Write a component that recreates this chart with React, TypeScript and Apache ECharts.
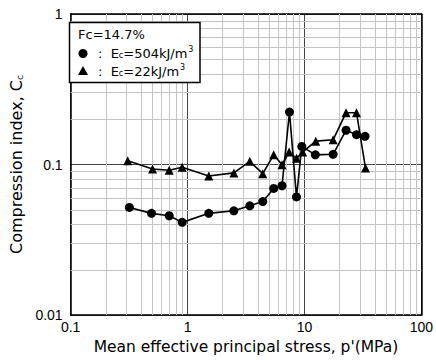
import React, { useEffect, useRef } from "react";
import * as echarts from "echarts";

const circleX = [0.318, 0.492, 0.697, 0.9, 1.52, 2.49, 3.41, 4.4, 5.46, 6.43, 7.45, 8.55, 9.5, 12.4, 17.6, 22.7, 27.9, 33.0];
const circleY = [0.0519, 0.0474, 0.0457, 0.0413, 0.0474, 0.0493, 0.0532, 0.0568, 0.0694, 0.0723, 0.223, 0.0609, 0.132, 0.116, 0.117, 0.169, 0.158, 0.154];
const triX = [0.308, 0.502, 0.697, 0.899, 1.52, 2.49, 3.41, 4.4, 5.46, 6.43, 7.4, 8.55, 9.65, 12.5, 17.6, 22.7, 27.9, 33.3];
const triY = [0.106, 0.0934, 0.0916, 0.0959, 0.084, 0.088, 0.105, 0.087, 0.116, 0.0997, 0.121, 0.11, 0.121, 0.143, 0.146, 0.221, 0.221, 0.0948];
const xMinorLines = [0.2, 0.3, 0.4, 0.5, 0.6, 0.7, 0.8, 0.9, 2, 3, 4, 5, 6, 7, 8, 9, 20, 30, 40, 50, 60, 70, 80, 90];
const yMinorLines = [0.02, 0.03, 0.04, 0.05, 0.06, 0.07, 0.08, 0.09, 0.2, 0.3, 0.4, 0.5, 0.6, 0.7, 0.8, 0.9];
const xTickLabels = ["0.1", "1", "10", "100"];
const yTickLabels = ["0.01", "0.1", "1"];

const FONT = "Liberation Sans";
const WIDE = "DejaVu Sans";

function fmt(v: number, labels: string[]) {
  const s = labels.find((l) => Math.abs(parseFloat(l) - v) / v < 1e-6);
  return s ?? "";
}

export default function App() {
  const ref = useRef<HTMLDivElement>(null);
  useEffect(() => {
    if (!ref.current) return;
    const chart = echarts.init(ref.current, null, { renderer: "svg" });
    const baseLog = {
      type: "log" as const,
      logBase: 10,
    };
    const legendRich = {
      a: { fontFamily: WIDE, fontSize: 13, fill: "#000" },
      s: { fontFamily: WIDE, fontSize: 8, fill: "#000", padding: [4, 0, 0, 0] },
      p: { fontFamily: WIDE, fontSize: 8, fill: "#000", padding: [0, 0, 8, 1] },
    };
    chart.setOption({
      animation: false,
      backgroundColor: "#fff",
      grid: { left: 60, top: 14, width: 364, height: 305, show: false },
      xAxis: [
        {
          ...baseLog,
          min: 0.1,
          max: 100,
          name: "Mean effective principal stress, p'(MPa)",
          nameLocation: "middle",
          nameGap: 22,
          nameTextStyle: { fontFamily: WIDE, fontSize: 15.5, color: "#000", verticalAlign: "top" },
          axisLine: { show: true, lineStyle: { color: "#000", width: 1.5 } },
          axisTick: { show: false },
          axisLabel: {
            fontFamily: FONT,
            fontSize: 14,
            color: "#000",
            margin: 5,
            showMinLabel: true,
            showMaxLabel: true,
            formatter: (v: number) => fmt(v, xTickLabels),
          },
          splitLine: { show: true, lineStyle: { color: "#444", width: 1 } },
        },
        {
          ...baseLog,
          min: 0.1,
          max: 100,
          position: "top",
          axisLine: { show: true, lineStyle: { color: "#000", width: 1.5 } },
          axisTick: { show: false },
          axisLabel: { show: false },
          splitLine: { show: false },
        },
      ],
      yAxis: [
        {
          ...baseLog,
          min: 0.01,
          max: 1,
          name: "{a|Compression index, C}{s|c}",
          nameLocation: "middle",
          nameGap: 38,
          nameRotate: 90,
          nameTextStyle: {
            fontFamily: WIDE,
            color: "#000",
            rich: {
              a: { fontFamily: WIDE, fontSize: 16, color: "#000" },
              s: { fontFamily: WIDE, fontSize: 9, color: "#000", verticalAlign: "bottom", padding: [8, 0, 0, 0] },
            },
          },
          axisLine: { show: true, lineStyle: { color: "#000", width: 1.5 } },
          axisTick: { show: false },
          axisLabel: {
            fontFamily: FONT,
            fontSize: 14,
            color: "#000",
            margin: 8,
            showMinLabel: true,
            showMaxLabel: true,
            formatter: (v: number) => fmt(v, yTickLabels),
          },
          splitLine: { show: true, lineStyle: { color: "#444", width: 1 } },
        },
        {
          ...baseLog,
          min: 0.01,
          max: 1,
          position: "right",
          axisLine: { show: true, lineStyle: { color: "#000", width: 1.5 } },
          axisTick: { show: false },
          axisLabel: { show: false },
          splitLine: { show: false },
        },
      ],
      series: [
        {
          type: "line",
          name: "grid-minor",
          data: [],
          silent: true,
          z: 1,
          markLine: {
            silent: true,
            symbol: "none",
            label: { show: false },
            emphasis: { disabled: true },
            lineStyle: { color: "#c4c4c4", width: 1, type: "solid" },
            data: [
              ...xMinorLines.map((v) => ({ xAxis: v })),
              ...yMinorLines.map((v) => ({ yAxis: v })),
            ],
          },
        },
        {
          type: "line",
          name: "Ec=504kJ/m3",
          data: circleX.map((x, i) => [x, circleY[i]]),
          symbol: "circle",
          symbolSize: 9,
          showAllSymbol: true,
          itemStyle: { color: "#000" },
          lineStyle: { color: "#000", width: 1.6 },
          z: 5,
        },
        {
          type: "line",
          name: "Ec=22kJ/m3",
          data: triX.map((x, i) => [x, triY[i]]),
          symbol: "triangle",
          symbolSize: 9,
          showAllSymbol: true,
          itemStyle: { color: "#000" },
          lineStyle: { color: "#000", width: 1.6 },
          z: 5,
        },
      ],
      graphic: [
        {
          type: "rect",
          shape: { x: 69.5, y: 22.5, width: 130.5, height: 60 },
          style: { fill: "#fff", stroke: "#000", lineWidth: 1.5 },
          z: 10,
        },
        {
          type: "text",
          x: 78,
          y: 34.5,
          z: 11,
          style: {
            text: "Fc=14.7%",
            verticalAlign: "middle",
            fontFamily: WIDE,
            fontSize: 13,
            fill: "#000",
          },
        },
        {
          type: "circle",
          shape: { cx: 83, cy: 53.5, r: 4.5 },
          style: { fill: "#000" },
          z: 11,
        },
        {
          type: "polygon",
          shape: { points: [[83, 66], [78, 75], [88, 75]] },
          style: { fill: "#000" },
          z: 11,
        },
        {
          type: "text",
          x: 98,
          y: 53.5,
          z: 11,
          style: {
            text: "{a|:  E}{s|c}{a|=504kJ/m}{p|3}",
            verticalAlign: "middle",
            rich: legendRich,
          },
        },
        {
          type: "text",
          x: 98,
          y: 71,
          z: 11,
          style: {
            text: "{a|:  E}{s|c}{a|=22kJ/m}{p|3}",
            verticalAlign: "middle",
            rich: legendRich,
          },
        },
      ],
    });
    return () => chart.dispose();
  }, []);
  return (
    <div
      ref={ref}
      style={{ position: "fixed", left: 0, top: 0, width: 436, height: 360 }}
    />
  );
}
